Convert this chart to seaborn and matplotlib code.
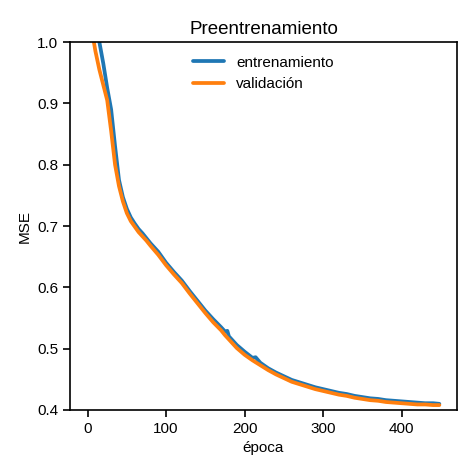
import matplotlib
matplotlib.use('Agg')
import matplotlib.pyplot as plt
import seaborn as sns
import pandas as pd

# MSE, at a set of epochs
epochs_train = [0, 5, 10, 15, 20, 25, 30, 35, 40, 45, 50, 55, 60, 65, 70, 75, 80, 90,
                100, 110, 120, 130, 140, 150, 160, 170, 175, 178, 180, 190, 200, 210,
                214, 220, 230, 240, 250, 260, 270, 280, 290, 300, 310, 320, 330, 340,
                350, 360, 370, 380, 390, 400, 410, 420, 430, 440, 448]
mse_train = [1.16, 1.10, 1.04, 1.00, 0.965, 0.925, 0.89, 0.83, 0.775, 0.747, 0.728, 0.714,
             0.704, 0.695, 0.688, 0.680, 0.672, 0.658, 0.640, 0.625, 0.611, 0.594, 0.578,
             0.562, 0.548, 0.535, 0.528, 0.529, 0.520, 0.506, 0.495, 0.485, 0.486, 0.477,
             0.468, 0.461, 0.455, 0.449, 0.445, 0.441, 0.437, 0.434, 0.431, 0.428, 0.426,
             0.423, 0.421, 0.419, 0.418, 0.416, 0.415, 0.414, 0.413, 0.412, 0.411, 0.411,
             0.410]

epochs_val = [0, 5, 8, 10, 15, 20, 25, 30, 35, 40, 45, 50, 55, 60, 65, 70, 75, 80, 90,
              100, 110, 120, 130, 140, 150, 160, 170, 175, 180, 190, 200, 210, 220, 230,
              240, 250, 260, 270, 280, 290, 300, 310, 320, 330, 340, 350, 360, 370, 380,
              390, 400, 410, 420, 430, 440, 448]
mse_val = [1.10, 1.04, 1.00, 0.985, 0.955, 0.93, 0.905, 0.855, 0.80, 0.765, 0.740, 0.721,
           0.708, 0.699, 0.690, 0.683, 0.676, 0.668, 0.653, 0.636, 0.621, 0.607, 0.590,
           0.574, 0.558, 0.543, 0.530, 0.522, 0.515, 0.501, 0.490, 0.481, 0.473, 0.465,
           0.458, 0.452, 0.446, 0.442, 0.438, 0.434, 0.431, 0.428, 0.425, 0.423, 0.420,
           0.418, 0.416, 0.415, 0.413, 0.412, 0.411, 0.410, 0.409, 0.409, 0.408, 0.408]

train_df = pd.DataFrame({'epoca': epochs_train, 'mse': mse_train})
val_df = pd.DataFrame({'epoca': epochs_val, 'mse': mse_val})

sns.set_theme(style='ticks')
plt.rcParams['font.family'] = ['Liberation Sans', 'DejaVu Sans']
plt.rcParams['text.color'] = 'black'
plt.rcParams['axes.labelcolor'] = 'black'
plt.rcParams['xtick.color'] = 'black'
plt.rcParams['ytick.color'] = 'black'

fig = plt.figure(figsize=(4.59, 4.62), dpi=100)
ax = fig.add_axes([0.1525, 0.1126, 0.843, 0.7964])

sns.lineplot(data=train_df, x='epoca', y='mse', color='#1f77b4', lw=2.7,
             label='entrenamiento', ax=ax)
sns.lineplot(data=val_df, x='epoca', y='mse', color='#ff7f0e', lw=2.7,
             label='validación', ax=ax)

ax.set_ylim(0.4, 1.0)
ax.set_xlim(-22.4, 470.4)
ax.set_xticks([0, 100, 200, 300, 400])
ax.set_yticks([0.4, 0.5, 0.6, 0.7, 0.8, 0.9, 1.0])
ax.tick_params(labelsize=11, length=5, width=1.2, colors='black')
for s in ax.spines.values():
    s.set_color('black')
    s.set_linewidth(1.2)

ax.set_title('Preentrenamiento', fontsize=13.5, color='black')
ax.set_xlabel('época', fontsize=11)
ax.set_ylabel('MSE', fontsize=11)
leg = ax.legend(loc='upper center', frameon=False, fontsize=11)
for t in leg.get_texts():
    t.set_color('black')

fig.savefig('out.png', dpi=100)
plt.close(fig)
